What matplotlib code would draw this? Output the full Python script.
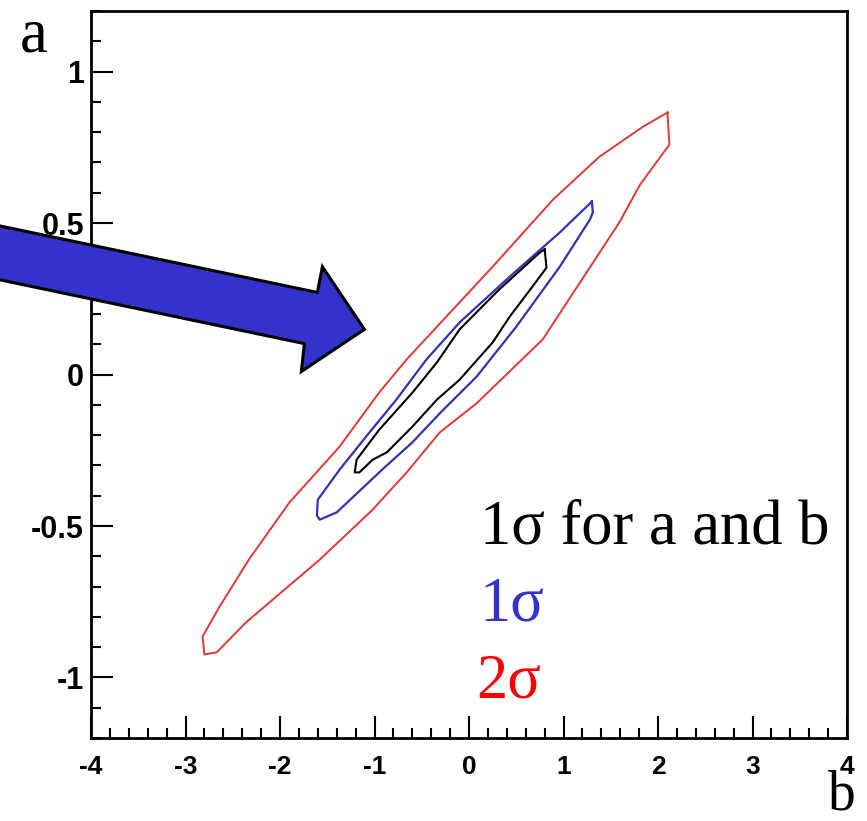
import matplotlib
matplotlib.use("Agg")
import matplotlib.pyplot as plt
from matplotlib.patches import Polygon
import numpy as np

# contour outlines (b on x, a on y)
red_b = [2.10, 2.12, 1.81, 1.59, 0.78, 0.08, -0.31, -0.66, -1.02, -1.58, -2.36, -2.67, -2.80,
         -2.82, -2.64, -2.33, -1.90, -1.37, -0.95, -0.66, 0.25, 0.89, 1.38, 1.84, 2.10]
red_a = [0.865, 0.759, 0.627, 0.502, 0.116, -0.095, -0.191, -0.323, -0.446, -0.611, -0.818, -0.917, -0.924,
         -0.865, -0.766, -0.611, -0.422, -0.238, -0.059, 0.050, 0.356, 0.578, 0.719, 0.818, 0.865]

blue_b = [1.30, 1.31, 1.28, 0.96, 0.50, 0.08, -0.30, -0.60, -0.92, -1.40, -1.58, -1.61,
          -1.60, -1.37, -1.09, -0.77, -0.45, -0.10, 0.43, 0.96, 1.30]
blue_a = [0.571, 0.535, 0.512, 0.356, 0.158, -0.007, -0.125, -0.224, -0.314, -0.455, -0.479, -0.465,
          -0.413, -0.314, -0.205, -0.083, 0.050, 0.172, 0.323, 0.469, 0.571]

black_b = [0.80, 0.82, 0.67, 0.43, 0.25, -0.10, -0.34, -0.60, -0.87, -1.02, -1.16, -1.21,
           -1.19, -0.95, -0.60, -0.34, -0.10, 0.32, 0.75, 0.80]
black_a = [0.413, 0.353, 0.290, 0.191, 0.106, -0.017, -0.083, -0.172, -0.257, -0.281, -0.323, -0.323,
           -0.281, -0.182, -0.060, 0.040, 0.149, 0.281, 0.403, 0.413]

xticks = [-4, -3, -2, -1, 0, 1, 2, 3, 4]
xlabels = ['-4', '-3', '-2', '-1', '0', '1', '2', '3', '4']
yticks = [-1, -0.5, 0, 0.5, 1]
ylabels = ['-1', '-0.5', '0', '0.5', '1']

# arrow outline (data coords, runs off the left of the axes)
arrow_b = [-5.2, -1.605, -1.552, -1.107, -1.774, -1.743, -5.2]
arrow_a = [0.506, 0.271, 0.356, 0.149, 0.010, 0.102, 0.328]

fig = plt.figure(figsize=(8.67, 8.21), dpi=100)
ax = fig.add_axes([0.105, 0.101, 0.872, 0.8856])

ax.plot(red_b, red_a, color='#e03838', lw=1.4)
ax.plot(blue_b, blue_a, color='#3333b0', lw=1.6)
ax.plot(black_b, black_a, color='black', lw=1.5)

ax.add_patch(Polygon(np.column_stack([arrow_b, arrow_a]), closed=True,
                     facecolor='#3333cc', edgecolor='black', lw=2.2,
                     clip_on=False, zorder=5))

ax.set_xlim(-4, 4)
ax.set_ylim(-1.2, 1.2)
ax.set_xticks(xticks)
ax.set_xticklabels(xlabels)
ax.set_yticks(yticks)
ax.set_yticklabels(ylabels)
ax.set_xticks(np.arange(-4, 4.01, 0.2), minor=True)
ax.set_yticks(np.arange(-1.2, 1.21, 0.1), minor=True)
ax.tick_params(which='major', direction='in', length=16, width=1.5, top=False, right=False)
ax.tick_params(which='minor', direction='in', length=7, width=1.5, top=False, right=False)
ax.tick_params(axis='x', pad=12)
ax.tick_params(axis='y', pad=5)
for lab in ax.get_xticklabels():
    lab.set_fontfamily('Liberation Sans')
    lab.set_fontweight('bold')
    lab.set_fontsize(19)
for lab in ax.get_yticklabels():
    lab.set_fontfamily('Liberation Sans')
    lab.set_fontweight('bold')
    lab.set_fontsize(22)
for sp in ax.spines.values():
    sp.set_linewidth(2)

serif = ['Liberation Serif', 'DejaVu Serif']
fig.text(0.5536, 0.3386, '1σ for a and b', color='black', fontsize=45, family=serif, va='baseline')
fig.text(0.5536, 0.2448, '1σ', color='#3333cc', fontsize=45, family=serif, va='baseline')
fig.text(0.549, 0.1510, '2σ', color='red', fontsize=45, family=serif, va='baseline')
fig.text(0.023, 0.9367, 'a', color='black', fontsize=45, family=serif, va='baseline')
fig.text(0.955, 0.014, 'b', color='black', fontsize=40, family=serif, va='baseline')

fig.savefig('out.png', dpi=100)
